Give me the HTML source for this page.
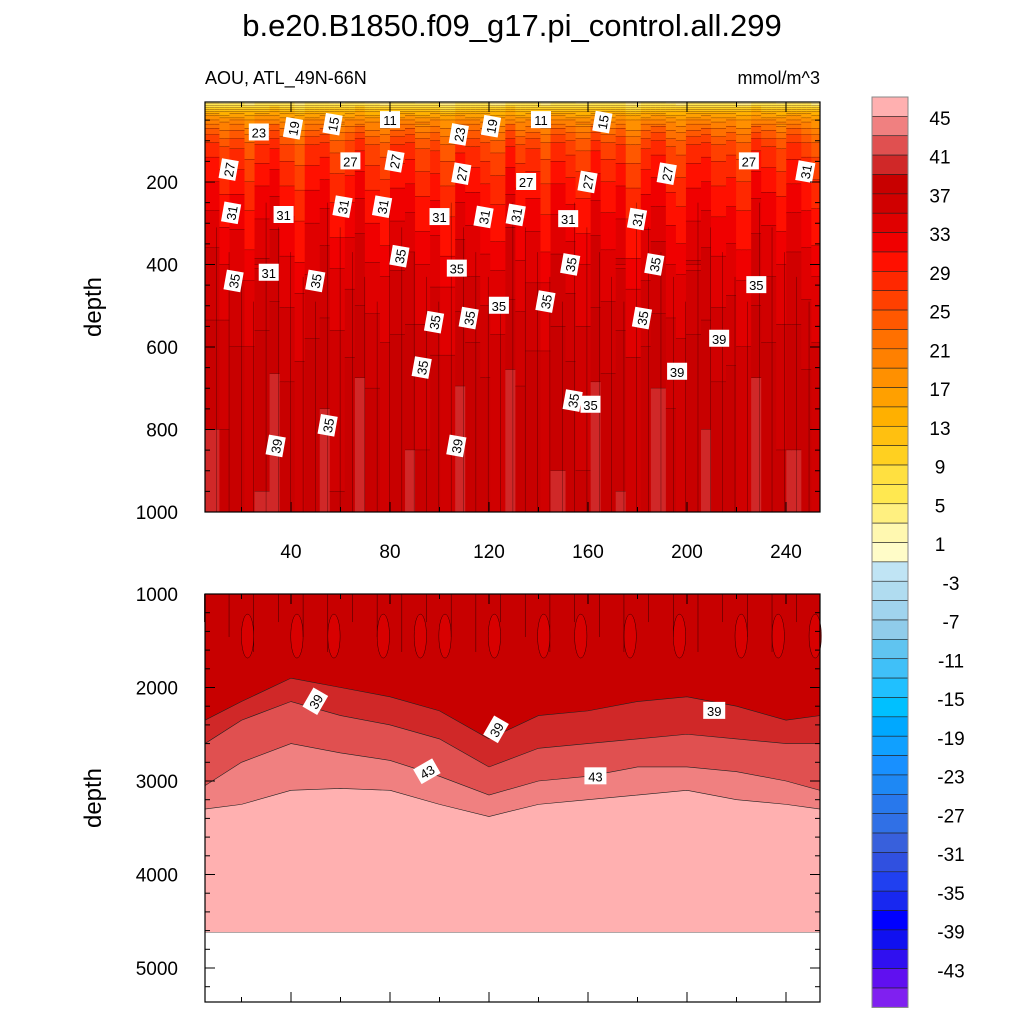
<!DOCTYPE html>
<html><head><meta charset="utf-8"><style>
body{margin:0;background:#fff}
svg{display:block;font-family:"Liberation Sans",sans-serif}
</style></head><body>
<svg id="c" width="1024" height="1024" viewBox="0 0 1024 1024"></svg>
<script>
// ---- data ----
const levelLows=[45,43,41,39,37,35,33,31,29,27,25,23,21,19,17,15,13,11,9,7,5,3,1,-1,-3,-5,-7,-9,-11,-13,-15,-17,-19,-21,-23,-25,-27,-29,-31,-33,-35,-37,-39,-41,-43,-45,-47];
const levelColors=["#ffb0b0","#f08080","#e05050","#d02828","#c80000","#d00000","#e00000","#f00000","#ff1000","#ff2800","#ff4000","#ff5800","#ff7000","#ff8000","#ff9000","#ffa000","#ffb000","#ffc010","#ffd020","#ffe040","#ffe850","#fff080","#fff8b0","#fffcc8","#c0e4f4","#b0dcf0","#a0d4ee","#90ccea","#60c4f0","#40c0f8","#20c0ff","#00c0ff","#00a8ff","#10a0ff","#1890ff","#1e88f4","#2878ec","#3070e6","#3860dc","#3050e0","#2040f0","#1828f0","#0000ff","#1010f0","#3010f0","#6010f0","#8020f0"];
const cbLabels=[45,41,37,33,29,25,21,17,13,9,5,1,-3,-7,-11,-15,-19,-23,-27,-31,-35,-39,-43];
const profDepth=[0,15,30,50,80,110,160,220,300,400,550,700,1000];
const profValue=[1,8,14,19,23,26,28,30,32,34,36,37.6,38.2];
const yearOffsets=[1.2,-0.8,0.5,-1.5,0.9,1.8,-0.4,-1.9,0.7,1.3,-1.1,0.2,1.7,-0.6,-1.4,0.8,1.1,-0.9,0.3,-1.7,1.5,0.6,-0.3,-1.2,1.9,-0.5,0.4,-1.6,1.0,0.1,-1.0,1.6,-0.2,0.9,-1.8,0.5,1.4,-0.7,-1.3,0.8,1.2,-0.4,0.0,-1.5,1.7,0.6,-0.9,1.1,-0.1,-1.4];
const botYears=[5,20,40,60,80,100,120,140,160,180,200,220,240,254];
const c39=[2350,2150,1900,2000,2100,2250,2550,2300,2250,2150,2100,2200,2350,2300];
const c41=[2600,2350,2150,2300,2400,2550,2850,2650,2600,2550,2500,2550,2600,2600];
const c43=[3050,2800,2600,2700,2780,2950,3150,3000,2950,2850,2850,2900,3000,3100];
const c45=[3300,3250,3100,3080,3100,3250,3380,3250,3200,3150,3100,3200,3250,3300];
const topLabelText=["23","19","15","11","23","19","11","15","27","27","27","27","27","27","27","27","31","31","31","31","31","31","31","31","31","31","35","31","35","35","35","35","35","35","35","35","35","35","35","39","35","35","39","39","39","35","35"];
const topLabelYear=[27,41,57,80,108,121,141,166,15,64,82,109,135,160,192,225,248,16,37,61,77,100,118,131,152,180,17,31,50,84,107,153,187,228,98,112,124,143,182,213,93,154,196,107,34,161,55];
const topLabelDepth=[80,70,60,50,85,65,50,55,170,150,150,180,200,200,180,150,175,275,280,260,260,285,285,280,290,290,440,420,440,380,410,400,400,450,540,530,500,490,530,580,650,730,660,840,840,740,790];
// ---- helpers ----
const svg=document.getElementById('c');
const NS='http://www.w3.org/2000/svg';
function mk(t,a,p){const e=document.createElementNS(NS,t);for(const k in a)e.setAttribute(k,a[k]);(p||svg).appendChild(e);return e;}
const X0=205,X1=820;
const xs=y=>192+2.475*y;
const yT=d=>99.5+d*0.4125;
const yB=d=>594+(d-1000)*0.0935;
function colorFor(v){for(let i=0;i<levelLows.length;i++){if(v>=levelLows[i])return levelColors[i];}return levelColors[levelColors.length-1];}
function prof(d){for(let i=1;i<profDepth.length;i++){if(d<=profDepth[i]){const t=(d-profDepth[i-1])/(profDepth[i]-profDepth[i-1]);return profValue[i-1]+t*(profValue[i]-profValue[i-1]);}}return profValue[profValue.length-1];}
// title
let t=mk('text',{x:512,y:36,'text-anchor':'middle','font-size':31});t.textContent='b.e20.B1850.f09_g17.pi_control.all.299';

t=mk('text',{x:205,y:84,'font-size':18});t.textContent='AOU, ATL_49N-66N';

t=mk('text',{x:820,y:84,'text-anchor':'end','font-size':18});t.textContent='mmol/m^3';

// top panel
const gT=mk('g',{});

const nCol=123,yr0=5,yr1=254.3;
for(let c=0;c<nCol;c++){
  const ya=yr0+(yr1-yr0)*c/nCol,yb=yr0+(yr1-yr0)*(c+1)/nCol;
  const off=yearOffsets[Math.floor(c*yearOffsets.length/nCol)];
  let runStart=5,runCol=null;
  for(let d=5;d<=1005;d+=5){
    const amp=d<60?0.6:(d<400?1.5:1.0);
    const v=prof(d)+amp*off;
    const col=d<1005?colorFor(v):null;
    if(col!==runCol){
      if(runCol){mk('rect',{x:xs(ya),y:yT(runStart),width:xs(yb)-xs(ya)+0.6,height:yT(d)-yT(runStart)+0.3,fill:runCol},gT);
        mk('line',{x1:xs(ya),y1:yT(d),x2:xs(yb),y2:yT(d),stroke:'#300','stroke-width':0.6},gT);}
      runCol=col;runStart=d;
    }
  }
}
for(let c=0;c<yearOffsets.length;c+=1){const x=xs(yr0+(yr1-yr0)*c/yearOffsets.length);
  mk('line',{x1:x,y1:yT(250+(c%5)*60),x2:x,y2:512,stroke:'#300','stroke-width':0.5,'stroke-opacity':0.7},gT);}
mk('rect',{x:0,y:88,width:205,height:430,fill:'#fff'});
mk('rect',{x:820,y:88,width:40,height:430,fill:'#fff'});
mk('rect',{x:205,y:88,width:615,height:14,fill:'#fff'});
mk('rect',{x:205,y:512,width:615,height:10,fill:'#fff'});
for(let i=0;i<topLabelText.length;i++){
  const cx=xs(topLabelYear[i]),cy=yT(topLabelDepth[i]);
  const g=mk('g',{transform:`translate(${cx},${cy}) rotate(${i%3===0?0:-80})`});
  
  mk('rect',{x:-10,y:-9,width:20,height:17,fill:'#fff'},g);
  const tt=mk('text',{x:0,y:5,'text-anchor':'middle','font-size':13},g);tt.textContent=topLabelText[i];
}
// bottom panel
const gB=mk('g',{});

mk('rect',{x:X0,y:594,width:X1-X0,height:yB(4620)-594,fill:'#c80000'},gB);
for(let c=0;c<yearOffsets.length;c++){
  if(yearOffsets[c]<-0.8){const ya=yr0+(yr1-yr0)*c/yearOffsets.length,yb=yr0+(yr1-yr0)*(c+1)/yearOffsets.length;
    mk('ellipse',{cx:(xs(ya)+xs(yb))/2,cy:yB(1450),rx:(xs(yb)-xs(ya))/2,ry:22,fill:'#d80000',stroke:'#300','stroke-width':0.5},gB);}
  if(c%2===0){const x=xs(yr0+(yr1-yr0)*c/yearOffsets.length);
    mk('line',{x1:x,y1:594,x2:x,y2:yB(1300+(c%6)*80),stroke:'#300','stroke-width':0.5},gB);}
}
function band(arr,col){
  let p=`M${X0},${yB(4620)} `;
  for(let i=0;i<botYears.length;i++){const x=Math.min(X1,Math.max(X0,xs(botYears[i])));p+=`L${x},${yB(arr[i])} `;}
  p+=`L${X1},${yB(4620)} Z`;
  const e=mk('path',{d:p,fill:col,stroke:'#222','stroke-width':0.6},gB);
  
}
band(c39,'#d02828');band(c41,'#e05050');band(c43,'#f08080');band(c45,'#ffb0b0');
mk('rect',{x:X0,y:yB(4620),width:X1-X0,height:1002-yB(4620),fill:'#fff'});
const botLab=[["39",50,2150,-60],["39",123,2450,-60],["39",211,2250,0],["43",95,2900,-30],["43",163,2950,0]];
botLab.forEach(b=>{const g=mk('g',{transform:`translate(${xs(b[1])},${yB(b[2])}) rotate(${b[3]})`});
 
 mk('rect',{x:-11,y:-9,width:22,height:17,fill:'#fff'},g);const tt=mk('text',{x:0,y:5,'text-anchor':'middle','font-size':13},g);tt.textContent=b[0];});
function frame(y0,y1,name){const r=mk('rect',{x:X0,y:y0,width:X1-X0,height:y1-y0,fill:'none',stroke:'#000','stroke-width':1.2});}
frame(102,512,'upper-plot-area');frame(594,1002,'lower-plot-area');
const xTicks=[40,80,120,160,200,240];
[[102,512],[594,1002]].forEach(([a,b])=>{
 for(let y=20;y<=250;y+=20){const x=xs(y);const L=y%40===0?10:5;
  mk('line',{x1:x,y1:b,x2:x,y2:b-L,stroke:'#000'});mk('line',{x1:x,y1:a,x2:x,y2:a+L,stroke:'#000'});}
});
xTicks.forEach(v=>{const e=mk('text',{x:xs(v),y:558,'text-anchor':'middle','font-size':19});e.textContent=v;
 });
for(let d=0;d<=1000;d+=50){const y=yT(d);if(y<102)continue;const L=d%200===0?10:5;
 mk('line',{x1:X0,y1:y,x2:X0+L,y2:y,stroke:'#000'});mk('line',{x1:X1,y1:y,x2:X1-L,y2:y,stroke:'#000'});
 if(d%200===0){const e=mk('text',{x:X0-27,y:y+7,'text-anchor':'end','font-size':19});e.textContent=d;
 }}
for(let d=1000;d<=5300;d+=200){const y=yB(d);const L=d%1000===0?10:5;
 mk('line',{x1:X0,y1:y,x2:X0+L,y2:y,stroke:'#000'});mk('line',{x1:X1,y1:y,x2:X1-L,y2:y,stroke:'#000'});
 if(d%1000===0){const e=mk('text',{x:X0-27,y:y+7,'text-anchor':'end','font-size':19});e.textContent=d;
 }}
[[307,'upper-y-axis-title'],[798,'lower-y-axis-title']].forEach(([y,n])=>{const e=mk('text',{x:101,y:y,'text-anchor':'middle','font-size':24,transform:`rotate(-90 101 ${y})`});e.textContent='depth';
 });
const cbTop=97,bh=19.37;
levelColors.forEach((c,i)=>{const r=mk('rect',{x:872,y:cbTop+i*bh,width:36,height:bh,fill:c,stroke:'#222','stroke-width':0.6});
 });
mk('rect',{x:872,y:cbTop,width:36,height:bh*levelColors.length,fill:'none',stroke:'#888','stroke-width':1});
cbLabels.forEach(v=>{const y=118+(45-v)*9.685;const e=mk('text',{x:v<0?951:940,y:y+7,'text-anchor':'middle','font-size':19});e.textContent=v;
 });
</script>
</body></html>
